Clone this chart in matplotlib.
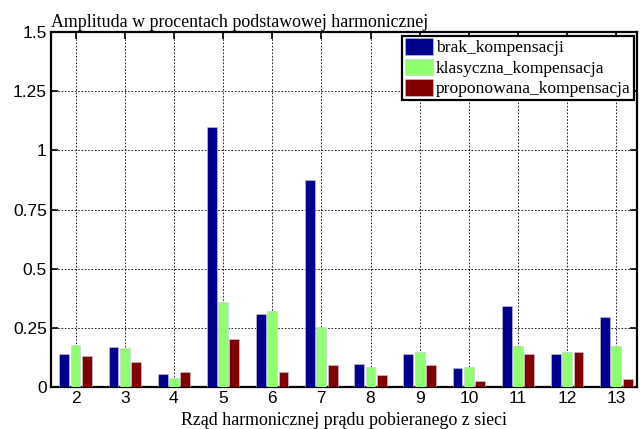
import numpy as np
import matplotlib
matplotlib.use("Agg")
import matplotlib.pyplot as plt

# Data
harmonics = [2, 3, 4, 5, 6, 7, 8, 9, 10, 11, 12, 13]
brak = [0.138, 0.170, 0.054, 1.097, 0.307, 0.875, 0.098, 0.138, 0.080, 0.342, 0.141, 0.296]
klasyczna = [0.177, 0.163, 0.037, 0.359, 0.321, 0.253, 0.086, 0.148, 0.084, 0.173, 0.148, 0.172]
proponowana = [0.132, 0.107, 0.065, 0.201, 0.065, 0.093, 0.051, 0.093, 0.025, 0.141, 0.148, 0.033]

series = [
    ("brak_kompensacji", brak, "#00008F"),
    ("klasyczna_kompensacja", klasyczna, "#8FFF70"),
    ("proponowana_kompensacja", proponowana, "#800000"),
]

serif = ["Liberation Serif", "DejaVu Serif"]
sans = ["Liberation Sans", "DejaVu Sans"]

fig = plt.figure(figsize=(6.4, 4.29), dpi=100)
ax = fig.add_axes([51 / 640, 1 - 387 / 429, 586 / 640, 355 / 429])

x = np.array(harmonics)
width = 0.2
offset = 0.23
for i, (name, vals, col) in enumerate(series):
    ax.bar(x + (i - 1) * offset, vals, width, color=col, edgecolor="#c8c8d8",
           linewidth=0.4, label=name, zorder=3)

ax.set_xlim(1.5, 13.42)
ax.set_ylim(0, 1.5)
ax.set_xticks(harmonics)
ax.set_yticks([0, 0.25, 0.5, 0.75, 1, 1.25, 1.5])
ax.set_yticklabels(["0", "0.25", "0.5", "0.75", "1", "1.25", "1.5"])

ax.grid(True, color="black", linestyle=(0, (2, 2)), linewidth=0.6, zorder=0)
ax.tick_params(direction="in", top=True, right=True, length=5, width=1.2,
               labelsize=12.5, pad=3)
for lab in ax.get_xticklabels() + ax.get_yticklabels():
    lab.set_family(sans)
for sp in ax.spines.values():
    sp.set_linewidth(1.6)

ax.text(0.0, 1.003, "Amplituda w procentach podstawowej harmonicznej",
        transform=ax.transAxes, ha="left", va="bottom", fontsize=12.9,
        family=serif)
ax.set_xlabel("Rząd harmonicznej prądu pobieranego z sieci", fontsize=12.9,
              family=serif, labelpad=4)

leg = ax.legend(loc="upper right", prop={"family": serif, "size": 12.6},
                fancybox=False, framealpha=1, edgecolor="black",
                borderpad=0.15, labelspacing=0.12, handlelength=1.6,
                handleheight=1.1, handletextpad=0.2, borderaxespad=0.2)
leg.get_frame().set_linewidth(1.6)

fig.savefig("out.png", dpi=100)
